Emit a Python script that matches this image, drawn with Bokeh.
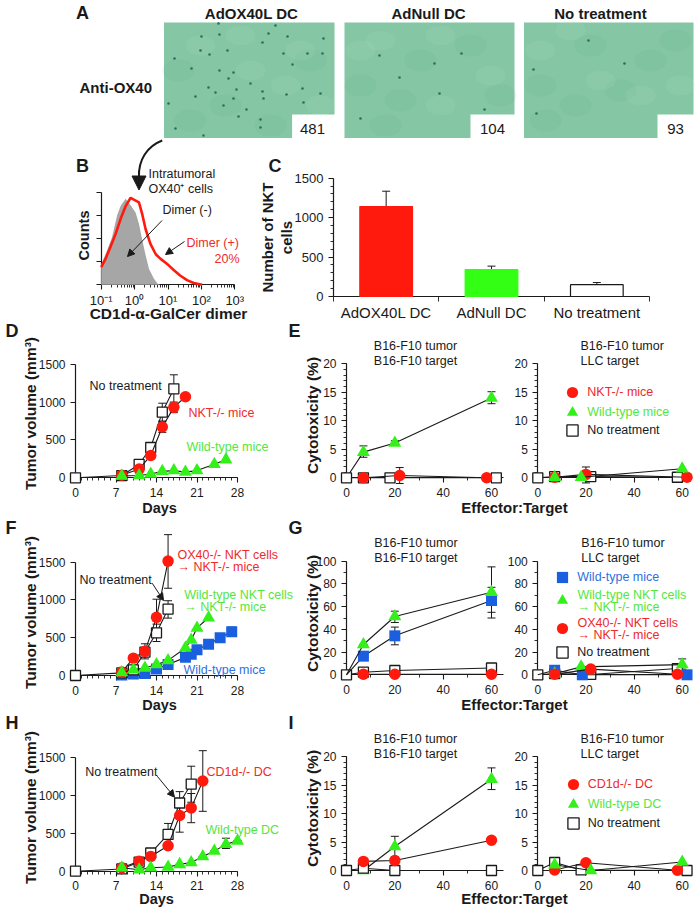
import math
from bokeh.embed import file_html
from bokeh.resources import INLINE
from bokeh.plotting import figure
from bokeh.models import (ColumnDataSource, Range1d, LinearAxis, LogAxis, LogScale, FixedTicker, Whisker, TeeHead,
                          Label, Arrow, NormalHead, Legend, LegendItem)
from bokeh.core.properties import value

# ---------- data ----------
# A
a_titles = ["AdOX40L DC", "AdNull DC", "No treatment"]
a_counts = ["481", "104", "93"]
a_spots1_x = [201,219,268,287,323,262,200,227,209,174,191,219,233,228,208,215,236,250,262,233,168,195,263,286,302,307,322,283,292,320,246,260,175,238,223,203,275,218,303,260]
a_spots1_y = [36,34,33,36,38,42,50,50,54,58,68,70,72,78,87,92,89,83,91,98,103,96,98,94,88,53,53,53,64,93,109,119,128,116,105,135,25,23,102,127]
a_spots2_x = [379,434,399,439,484,360,461]
a_spots2_y = [55,63,77,93,109,118,53]
a_spots3_x = [533,624,536,588]
a_spots3_y = [69,63,113,40]
a_dark_x = [190,178,225,270,310,385,420,470,360,400,500,545,590,650,540,620,575,675]
a_dark_y = [120,70,105,125,60,125,60,45,85,100,95,120,45,60,85,90,105,40]
a_light_x = [240,285,200,320,250,440,380,490,360,570,640,680,600,540,440,300]
a_light_y = [35,85,45,105,70,35,40,75,50,30,95,85,80,50,105,50]
# B
b_grey_x = [.1,.15,.21,.30,.38,.54,.76,1.07,1.35,1.7,2.14,2.7,3.8,4.9,5.9]
b_grey_y = [22,37,51,75,85,93,86,78,66,48,32,17,6.5,1,0]
b_red_x = [.1,.135,.19,.27,.38,.54,.76,.95,1.35,1.7,2.14,3.0,4.3,6.0,8.3,10.5,14.8,23,37,59,105]
b_red_y = [19,28,41,55,71,85,94,92,89,76,60,44,33,28,24,21,16,10,5,2,0]
b_tick_labels = ["10\u207b\u00b9", "10\u2070", "10\u00b9", "10\u00b2", "10\u00b3"]
# C
c_categories = ["AdOX40L DC", "AdNull DC", "No treatment"]
c_values = [1141, 340, 150]
c_err_hi = [1335, 385, 177]
# D
d_nt_x = [0,8,11,13,15,17];        d_nt_y = [0,30,176,400,867,1175]
d_nt_lo = [None,None,140,350,750,985];  d_nt_hi = [None,None,210,450,985,1360]
d_nkt_x = [8,11,13,15,17,19];      d_nkt_y = [35,115,295,670,930,1070]
d_nkt_lo = [None,None,None,600,860,1040]; d_nkt_hi = [None,None,None,740,1000,1100]
d_wt_x = [8,11,13,15,17,19,21,24,26]; d_wt_y = [25,30,50,85,95,75,95,180,240]
# E
e1_nkt_x = [7,22,58];      e1_nkt_y = [0,0.4,0]; e1_nkt_lo = [None,-1,None]; e1_nkt_hi = [None,1.8,None]
e1_wt_x = [0,7,20,60];     e1_wt_y = [0,4.5,6.1,14]; e1_wt_lo = [None,3.6,None,13]; e1_wt_hi = [None,5.6,6.5,15.1]
e1_nt_x = [0,7,18,62];     e1_nt_y = [0,0,0,0]
e2_nkt_x = [7,20,62];      e2_nkt_y = [0.1,0.6,0.1]; e2_nkt_lo = [None,-0.9,None]; e2_nkt_hi = [None,1.9,None]
e2_wt_x = [7,18,60];       e2_wt_y = [0.1,0.1,1.6]
e2_nt_x = [0,7,22,58];     e2_nt_y = [0,0.2,0.2,0.1]
# F
f_blue_x = [8,10,12,14,16,19,20,21,23,25,27]; f_blue_y = [5,20,25,85,145,240,280,340,415,500,580]
f_blue_lo = [None,None,None,None,None,200,240,300,370,450,520]; f_blue_hi = [None,None,None,None,None,280,320,380,460,550,640]
f_nt_x = [0,8,10,12,14,16];  f_nt_y = [0,35,75,310,565,880]
f_nt_lo = [None,None,None,220,450,760]; f_nt_hi = [None,None,None,420,680,990]
f_red_x = [8,10,12,14,16];   f_red_y = [45,230,320,770,1515]
f_red_lo = [None,None,None,530,1155]; f_red_hi = [None,None,None,1010,1865]
f_wt_x = [8,10,12,14,16,19,20,21,23]; f_wt_y = [40,75,100,145,200,365,470,630,765]
# G
g1_blue_x = [0,7,20,60];   g1_blue_y = [0,16.4,34.3,65.4]; g1_blue_lo = [None,None,26.4,50]; g1_blue_hi = [None,None,42,77]
g1_wt_x = [0,7,20,60];     g1_wt_y = [0,26.7,51.3,72.7]; g1_wt_lo = [None,None,46,55]; g1_wt_hi = [None,None,56,95]
g1_nt_x = [0,7,20,60];     g1_nt_y = [0,2.3,3.8,6]
g1_red_x = [7,20,60];      g1_red_y = [0.5,0.5,0.5]
g2_blue_x = [0,7,18.5,62]; g2_blue_y = [0,4,0,0]
g2_wt_x = [7,18,60];       g2_wt_y = [1,7,9]; g2_wt_lo = [None,None,5]; g2_wt_hi = [None,None,14]
g2_red_x = [7,22,58];      g2_red_y = [0.5,5,0.5]
g2_nt_x = [0,7,22,58];     g2_nt_y = [0,1,0.3,5.5]
# H
h_nt_x = [0,8,11,13,16,18,20];  h_nt_y = [0,30,120,240,485,900,1150]
h_nt_lo = [None,None,None,None,420,735,910]; h_nt_hi = [None,None,None,None,630,1050,1385]
h_red_x = [8,11,13,16,18,20,22]; h_red_y = [45,130,195,335,735,835,1190]
h_red_lo = [None,None,None,None,515,640,790]; h_red_hi = [None,None,None,None,955,1025,1590]
h_wt_x = [8,11,13,16,18,20,22,24,26,28]; h_wt_y = [45,20,45,55,90,115,195,265,355,400]
h_wt_lo = [None]*8 + [300,None]; h_wt_hi = [None]*8 + [435,None]
# I
i1_red_x = [7,20,60];    i1_red_y = [1.6,1.75,5.3]
i1_wt_x = [0,7,20,60];   i1_wt_y = [0,0,4.2,16]; i1_wt_lo = [None,None,2.4,14.2]; i1_wt_hi = [None,None,6,18]
i1_nt_x = [0,7,20,60];   i1_nt_y = [0,0.4,0,0]
i2_red_x = [7,20,58];    i2_red_y = [0.1,1.35,0.05]
i2_wt_x = [7,22,60];     i2_wt_y = [1,0,1.5]
i2_nt_x = [0,7,18,62];   i2_nt_y = [0,1.4,0.1,0]

# ---------- style ----------
FONT = "Liberation Sans"
RED, GREEN, BLUE = "#ff1a0d", "#33f01a", "#1a5fe0"
T_RED, T_GREEN, T_BLUE = "#ee2a2a", "#55e63c", "#2f6fe0"
INK = "#1a1a1a"

# The primary ranges are the page pixels of the picture; every panel has its own ranges.
L, R, T, B = 0, 700, 0, 909
p = figure(width=R-L, height=B-T, x_range=Range1d(L, R), y_range=Range1d(B, T),
           x_axis_type=None, y_axis_type=None, toolbar_location=None, output_backend="svg",
           min_border=0, outline_line_color=None)
p.grid.visible = False


def add_ranges(name, xm, ym, logx=False):
    v0, px0, v1, px1 = xm
    if logx:
        a, b = math.log10(v0), math.log10(v1)
        f = lambda px: 10 ** (a + (px - px0) * (b - a) / (px1 - px0))
        p.extra_x_scales[name] = LogScale()
    else:
        f = lambda px: v0 + (px - px0) * (v1 - v0) / (px1 - px0)
    p.extra_x_ranges[name] = Range1d(f(L), f(R))
    v0, px0, v1, px1 = ym
    g = lambda px: v0 + (px - px0) * (v1 - v0) / (px1 - px0)
    p.extra_y_ranges[name] = Range1d(g(B), g(T))


def style_axis(ax, size, tick=5):
    ax.level = "underlay"
    ax.axis_line_color = INK
    ax.axis_line_width = 1.2
    ax.major_tick_line_color = INK
    ax.minor_tick_line_color = INK
    ax.major_tick_line_width = 1.1
    ax.minor_tick_line_width = 0.9
    ax.major_tick_in = 0
    ax.major_tick_out = tick
    ax.minor_tick_in = 0
    ax.minor_tick_out = 3
    ax.major_label_text_font = FONT
    ax.major_label_text_font_size = f"{size}px"
    ax.major_label_text_color = INK
    ax.major_label_standoff = 5


def axes(name, xticks, xminor, xbounds, yticks, yminor, ybounds, size=12):
    xa = LinearAxis(x_range_name=name, y_range_name=name, fixed_location=0, bounds=xbounds,
                    ticker=FixedTicker(ticks=xticks, minor_ticks=xminor))
    ya = LinearAxis(x_range_name=name, y_range_name=name, fixed_location=0, bounds=ybounds,
                    ticker=FixedTicker(ticks=yticks, minor_ticks=yminor))
    style_axis(xa, size)
    style_axis(ya, size)
    p.add_layout(xa, "below")
    p.add_layout(ya, "left")
    return xa, ya


def txt(x, y, s, size=12.5, color=INK, bold=False, align="left", angle=0):
    p.add_layout(Label(x=x, y=y, text=s, text_font=FONT, text_font_size=f"{size}px", text_color=color,
                       text_font_style="bold" if bold else "normal", text_align=align,
                       text_baseline="middle", angle=angle))


def arrow(x0, y0, x1, y1, size=7, width=1):
    p.add_layout(Arrow(x_start=x0, y_start=y0, x_end=x1, y_end=y1, line_color=INK, line_width=width,
                       end=NormalHead(size=size, fill_color=INK, line_color=INK)))


STY = {
    "nt":   dict(marker="square", size=10, fill_color="white", line_color=INK, line_width=1.3),
    "red":  dict(marker="circle", size=11.5, fill_color=RED, line_color=RED, line_width=0),
    "wt":   dict(marker="triangle", size=13, fill_color=GREEN, line_color=GREEN, line_width=0),
    "blue": dict(marker="square", size=11, fill_color=BLUE, line_color=BLUE, line_width=0),
}


def series(name, kind, xs, ys, lo=None, hi=None):
    kw = dict(x_range_name=name, y_range_name=name)
    if lo is not None:
        lo2 = [y if v is None else v for v, y in zip(lo, ys)]
        hi2 = [y if v is None else v for v, y in zip(hi, ys)]
        src = ColumnDataSource(dict(x=xs, lo=lo2, hi=hi2))
        p.add_layout(Whisker(base="x", lower="lo", upper="hi", source=src, line_color=INK, line_width=1,
                             upper_head=TeeHead(size=8, line_color=INK, line_width=1),
                             lower_head=TeeHead(size=8, line_color=INK, line_width=1), **kw))
    p.line(xs, ys, line_color=INK, line_width=1.1, **kw)
    keep = [i for i, x in enumerate(xs) if kind == "nt" or x != 0]
    return p.scatter([xs[i] for i in keep], [ys[i] for i in keep], **STY[kind], **kw)


def key(renderer, label, color, cx, cy):
    box = 28
    p.add_layout(Legend(items=[LegendItem(label=value(label), renderers=[renderer])],
                        location=(cx - L - box / 2, B - cy - box / 2), orientation="vertical",
                        glyph_width=box, glyph_height=box, label_height=box, label_standoff=1,
                        padding=0, margin=0, spacing=0, border_line_color=None, background_fill_alpha=0,
                        label_text_font=FONT, label_text_font_size="12.5px", label_text_color=color,
                        label_text_baseline="middle"), "center")


# ---------- A ----------
for t, cx in zip(a_titles, [251, 428, 600]):
    txt(cx, 13, t, 15, bold=True, align="center")
txt(82, 12, "A", 18, bold=True, align="center")
txt(79, 87, "Anti-OX40", 15, bold=True)
a_left, a_right = [163.5, 344, 523.5], [334, 514, 693]
box_left = [291.6, 470, 657]
p.quad(left=a_left, right=a_right, top=[22]*3, bottom=[137.5]*3, fill_color="#85c6a4", line_color=None)
p.ellipse(x=a_dark_x, y=a_dark_y, width=32, height=22, fill_color="#5fa98a", fill_alpha=0.12, line_color=None)
p.ellipse(x=a_light_x, y=a_light_y, width=30, height=20, fill_color="#aee0c6", fill_alpha=0.14, line_color=None)
for sx, sy in [(a_spots1_x, a_spots1_y), (a_spots2_x, a_spots2_y), (a_spots3_x, a_spots3_y)]:
    p.scatter(sx, sy, marker="circle", size=2.6, fill_color="#2a6f60", line_color=None)
p.quad(left=box_left, right=[r + 1 for r in a_right], top=[114]*3, bottom=[138.5]*3, fill_color="white", line_color=None)
for c, cx in zip(a_counts, [312, 492, 675]):
    txt(cx, 128, c, 15, align="center")

# ---------- B ----------
txt(82, 165, "B", 18, bold=True, align="center")
add_ranges("b", (0.1, 100.7, 1000, 234.3), (0, 284.3, 100, 191.7), logx=True)
p.varea(x=b_grey_x, y1=[0]*len(b_grey_x), y2=b_grey_y, fill_color="#a6a6a6", x_range_name="b", y_range_name="b")
p.line(b_red_x, b_red_y, line_color=RED, line_width=2.6, x_range_name="b", y_range_name="b")
xa = LogAxis(x_range_name="b", y_range_name="b", fixed_location=0, bounds=(0.1, 1000),
             ticker=FixedTicker(ticks=[0.1, 1, 10, 100, 1000],
                                minor_ticks=[m * d for d in (0.1, 1, 10, 100) for m in range(2, 10)]),
             major_label_overrides=dict(zip([0.1, 1, 10, 100, 1000], b_tick_labels)))
ya = LinearAxis(x_range_name="b", y_range_name="b", fixed_location=0.1, bounds=(0, 100),
                ticker=FixedTicker(ticks=[0, 25, 50, 75, 100]))
style_axis(xa, 13)
style_axis(ya, 13)
xa.major_label_standoff = 3
ya.major_label_text_color = None
p.add_layout(xa, "below")
p.add_layout(ya, "left")
p.bezier(x0=[161.7], y0=[140], x1=[138.5], y1=[176], cx0=[146], cy0=[146], cx1=[138], cy1=[160],
         line_color=INK, line_width=2)
arrow(138.5, 170, 138.5, 189.5, size=14, width=2)
txt(148, 173, "Intratumoral")
txt(148, 188, "OX40\u207a cells")
txt(162, 209, "Dimer (-)")
arrow(161.5, 220, 127, 256)
txt(186, 242, "Dimer (+)", color=T_RED)
txt(239, 258, "20%", color=T_RED, align="right")
arrow(184, 241, 165, 254)
txt(83, 235, "Counts", 14.5, bold=True, align="center", angle=math.pi/2)
txt(168, 313, "CD1d-\u03b1-GalCer dimer", 15.5, bold=True, align="center")

# ---------- C ----------
txt(274.6, 165, "C", 18, bold=True, align="center")
add_ranges("c", (0, 333, 3, 649), (0, 296, 1500, 177.7))
c_pos = [i + 0.5 for i in range(len(c_categories))]
p.vbar(x=c_pos, top=c_values, bottom=0, width=0.5, fill_color=[RED, "#33ff14", "white"],
       line_color=[RED, "#33ff14", INK], line_width=1.2, x_range_name="c", y_range_name="c")
p.add_layout(Whisker(base="x", lower="lo", upper="hi", source=ColumnDataSource(dict(x=c_pos, lo=c_values, hi=c_err_hi)),
                     line_color=INK, line_width=1, upper_head=TeeHead(size=8, line_color=INK, line_width=1),
                     lower_head=None, x_range_name="c", y_range_name="c"))
xa, ya = axes("c", c_pos, [0, 1, 2, 3], (0, 3), [0, 500, 1000, 1500], list(range(0, 1501, 100)), (0, 1500), size=13)
xa.major_tick_out = 0
xa.minor_tick_out = 5
xa.major_label_text_font_size = "15px"
xa.major_label_standoff = 2
xa.major_label_overrides = dict(zip(c_pos, c_categories))
txt(267, 237, "Number of NKT", 15, bold=True, align="center", angle=math.pi/2)
txt(286, 237, "cells", 15, bold=True, align="center", angle=math.pi/2)


# ---------- shared layout for the lower rows ----------
def left_panel(name, y0, y1500):
    add_ranges(name, (0, 75, 28, 237), (0, y0, 1500, y1500))
    axes(name, [0, 7, 14, 21, 28], list(range(0, 29)), (0, 28), [0, 500, 1000, 1500], [], (0, 1500))


def cyto_panel(name, x0, x60, y0, ytop, vmax, step, minor, xend):
    add_ranges(name, (0, x0, 60, x60), (0, y0, vmax, ytop))
    axes(name, [0, 20, 40, 60], list(range(0, 61, 10)), (0, xend), list(range(0, vmax + 1, step)),
         list(range(0, vmax + 1, minor)), (0, vmax))


def titles(y1, y2, second, x):
    txt(x, y1, "B16-F10 tumor")
    txt(x, y2, second)


TV = "Tumor volume (mm\u00b3)"
CY = "Cytotoxicity (%)"

# ---------- D ----------
txt(5, 330, "D", 18, bold=True)
left_panel("d", 477.3, 363.7)
series("d", "nt", d_nt_x, d_nt_y, d_nt_lo, d_nt_hi)
series("d", "red", d_nkt_x, d_nkt_y, d_nkt_lo, d_nkt_hi)
series("d", "wt", d_wt_x, d_wt_y)
txt(89, 385.7, "No treatment")
txt(188, 412.7, "NKT-/- mice", color=T_RED)
txt(186, 446.7, "Wild-type mice", color=T_GREEN)
txt(30, 413, TV, 15.5, bold=True, align="center", angle=math.pi/2)
txt(159, 507, "Days", 14.5, bold=True, align="center")

# ---------- E ----------
txt(288, 330, "E", 18, bold=True)
cyto_panel("e1", 346, 491, 477.3, 363.3, 20, 5, 1, 65)
series("e1", "wt", e1_wt_x, e1_wt_y, e1_wt_lo, e1_wt_hi)
series("e1", "nt", e1_nt_x, e1_nt_y)
series("e1", "red", e1_nkt_x, e1_nkt_y, e1_nkt_lo, e1_nkt_hi)
titles(345.3, 360.7, "B16-F10 target", 373.3)
cyto_panel("e2", 537.3, 681.7, 477.3, 363.3, 20, 5, 1, 64)
r_nt = series("e2", "nt", e2_nt_x, e2_nt_y)
r_red = series("e2", "red", e2_nkt_x, e2_nkt_y, e2_nkt_lo, e2_nkt_hi)
r_wt = series("e2", "wt", e2_wt_x, e2_wt_y)
titles(345.3, 360.7, "LLC target", 580)
key(r_red, "NKT-/- mice", T_RED, 572.3, 392)
key(r_wt, "Wild-type mice", T_GREEN, 572.3, 411.7)
key(r_nt, "No treatment", INK, 572.3, 430)
txt(311.7, 415, CY, 15.5, bold=True, align="center", angle=math.pi/2)
txt(514, 507, "Effector:Target", 15, bold=True, align="center")

# ---------- F ----------
txt(5, 527, "F", 18, bold=True)
left_panel("f", 675, 561.7)
series("f", "blue", f_blue_x, f_blue_y, f_blue_lo, f_blue_hi)
series("f", "nt", f_nt_x, f_nt_y, f_nt_lo, f_nt_hi)
series("f", "red", f_red_x, f_red_y, f_red_lo, f_red_hi)
series("f", "wt", f_wt_x, f_wt_y)
txt(177, 554.7, "OX40-/- NKT cells", color=T_RED)
txt(177, 566.7, "\u2192 NKT-/- mice", color=T_RED)
txt(79, 579, "No treatment")
arrow(151.7, 582.7, 163, 600)
txt(183.7, 594, "Wild-type NKT cells", color=T_GREEN)
txt(183.7, 606, "\u2192 NKT-/- mice", color=T_GREEN)
txt(183, 669.3, "Wild-type mice", color=T_BLUE)
txt(30, 612, TV, 15.5, bold=True, align="center", angle=math.pi/2)
txt(159, 704, "Days", 14.5, bold=True, align="center")

# ---------- G ----------
txt(288, 527, "G", 18, bold=True)
cyto_panel("g1", 346, 491, 674.3, 560.7, 100, 20, 10, 65)
series("g1", "nt", g1_nt_x, g1_nt_y)
series("g1", "blue", g1_blue_x, g1_blue_y, g1_blue_lo, g1_blue_hi)
series("g1", "wt", g1_wt_x, g1_wt_y, g1_wt_lo, g1_wt_hi)
series("g1", "red", g1_red_x, g1_red_y)
titles(542.3, 557.7, "B16-F10 target", 373.7)
cyto_panel("g2", 537.3, 681.7, 674.3, 560.7, 100, 20, 10, 64)
r_nt = series("g2", "nt", g2_nt_x, g2_nt_y)
r_blue = series("g2", "blue", g2_blue_x, g2_blue_y)
r_wt = series("g2", "wt", g2_wt_x, g2_wt_y, g2_wt_lo, g2_wt_hi)
r_red = series("g2", "red", g2_red_x, g2_red_y)
titles(542.3, 557.7, "LLC target", 580.7)
key(r_blue, "Wild-type mice", T_BLUE, 562.3, 577)
key(r_wt, " ", T_GREEN, 562.3, 600)
txt(577, 594.7, "Wild-type NKT cells", color=T_GREEN)
txt(577, 606, "\u2192 NKT-/- mice", color=T_GREEN)
key(r_red, " ", T_RED, 562.3, 628)
txt(577, 622.7, "OX40-/- NKT cells", color=T_RED)
txt(577, 634.3, "\u2192 NKT-/- mice", color=T_RED)
key(r_nt, "No treatment", INK, 562.3, 652)
txt(311.7, 613, CY, 15.5, bold=True, align="center", angle=math.pi/2)
txt(514, 704, "Effector:Target", 15, bold=True, align="center")

# ---------- H ----------
txt(5, 722, "H", 18, bold=True)
left_panel("h", 870.7, 757)
series("h", "nt", h_nt_x, h_nt_y, h_nt_lo, h_nt_hi)
series("h", "red", h_red_x, h_red_y, h_red_lo, h_red_hi)
series("h", "wt", h_wt_x, h_wt_y, h_wt_lo, h_wt_hi)
txt(84.7, 771, "No treatment")
arrow(156.7, 775.7, 174, 796.7)
txt(206, 771.7, "CD1d-/- DC", color=T_RED)
txt(205, 829, "Wild-type DC", color=T_GREEN)
txt(30, 807, TV, 15.5, bold=True, align="center", angle=math.pi/2)
txt(156, 898, "Days", 14.5, bold=True, align="center")

# ---------- I ----------
txt(288, 722, "I", 18, bold=True)
cyto_panel("i1", 346, 491, 870, 756, 20, 5, 1, 65)
series("i1", "wt", i1_wt_x, i1_wt_y, i1_wt_lo, i1_wt_hi)
series("i1", "nt", i1_nt_x, i1_nt_y)
series("i1", "red", i1_red_x, i1_red_y)
titles(738.3, 753.7, "B16-F10 target", 373.3)
cyto_panel("i2", 537.3, 681.7, 870, 756, 20, 5, 1, 64)
r_nt = series("i2", "nt", i2_nt_x, i2_nt_y)
r_red = series("i2", "red", i2_red_x, i2_red_y)
r_wt = series("i2", "wt", i2_wt_x, i2_wt_y)
titles(738.3, 753.7, "LLC target", 580)
key(r_red, "CD1d-/- DC", T_RED, 572.7, 784.3)
key(r_wt, "Wild-type DC", T_GREEN, 572.7, 804)
key(r_nt, "No treatment", INK, 572.7, 822.7)
txt(311.7, 808, CY, 15.5, bold=True, align="center", angle=math.pi/2)
txt(514, 898, "Effector:Target", 15, bold=True, align="center")

open("out.html", "w").write(file_html(p, INLINE))
